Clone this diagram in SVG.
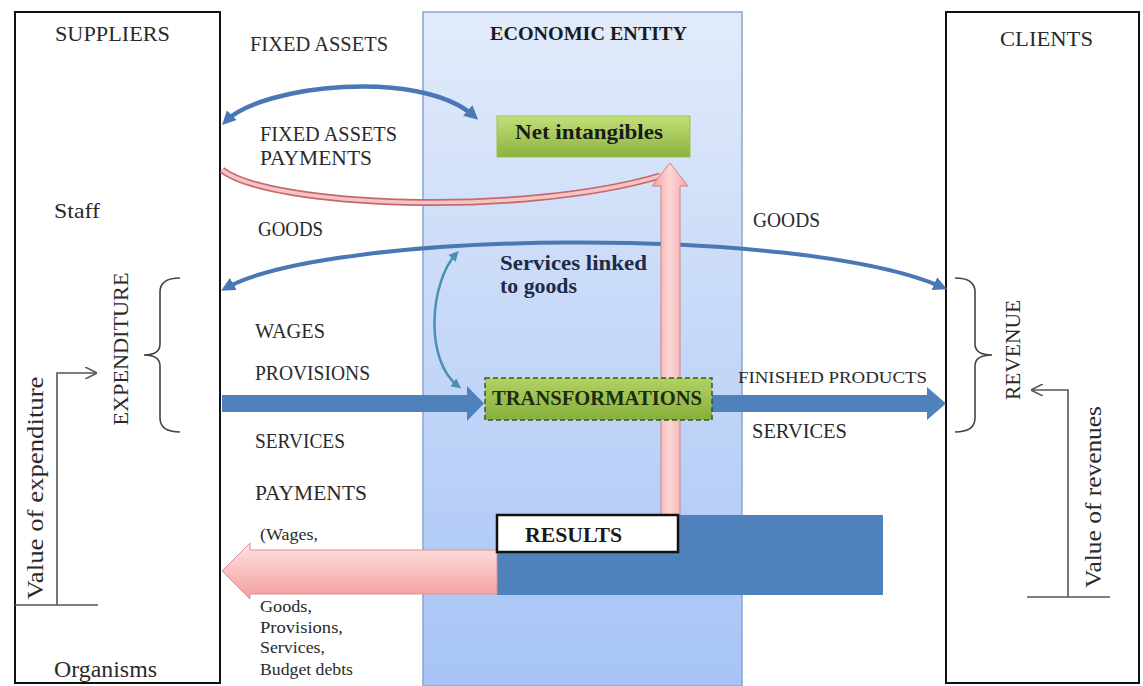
<svg xmlns="http://www.w3.org/2000/svg" width="1143" height="686" viewBox="0 0 1143 686">
<style>
text{font-family:"Liberation Serif","Times New Roman",serif;fill:#2a2a2a}
.lbl{font-size:21px}
.sm{font-size:17px}
.big{font-size:24px}
.b{font-weight:bold;fill:#1a1a1a}
.box{fill:#fff;stroke:#111;stroke-width:2}
.thin{fill:none;stroke:#555;stroke-width:1.6}
.brace{fill:none;stroke:#444;stroke-width:1.6}
.blue{fill:#4f81bd}
</style>
<defs>
<linearGradient id="gEnt" x1="0" y1="0" x2="0" y2="1"><stop offset="0" stop-color="#e2ebfa"/><stop offset="1" stop-color="#a7c4f6"/></linearGradient>
<linearGradient id="gGreen" x1="0" y1="0" x2="0" y2="1"><stop offset="0" stop-color="#c4de7a"/><stop offset="1" stop-color="#8ab43c"/></linearGradient>
<linearGradient id="gTr" x1="0" y1="0" x2="0" y2="1"><stop offset="0" stop-color="#b2d264"/><stop offset="1" stop-color="#86ae3a"/></linearGradient>
<linearGradient id="gPinkV" x1="0" y1="0" x2="1" y2="0"><stop offset="0" stop-color="#f2a3a3"/><stop offset="0.5" stop-color="#fcd6d6"/><stop offset="1" stop-color="#f2a3a3"/></linearGradient>
<linearGradient id="gPinkH" x1="0" y1="0" x2="0" y2="1"><stop offset="0" stop-color="#fde4e4"/><stop offset="1" stop-color="#f39c9c"/></linearGradient>
<marker id="mBlue" viewBox="0 0 10 10" refX="6" refY="5" markerWidth="14" markerHeight="14" markerUnits="userSpaceOnUse" orient="auto-start-reverse"><path d="M0,0 L10,5 L0,10 Z" fill="#4a78b4"/></marker>
<marker id="mTeal" viewBox="0 0 10 10" refX="6" refY="5" markerWidth="10" markerHeight="10" markerUnits="userSpaceOnUse" orient="auto-start-reverse"><path d="M0,0 L10,5 L0,10 Z" fill="#4a8fb4"/></marker>
<marker id="mOpen" viewBox="0 0 10 10" refX="9" refY="5" markerWidth="12" markerHeight="12" markerUnits="userSpaceOnUse" orient="auto"><path d="M0,0 L10,5 L0,10" fill="none" stroke="#555" stroke-width="1.3"/></marker>
</defs>

<g id="entity">
<rect x="423" y="12" width="319" height="674" fill="url(#gEnt)" stroke="#8aa4cc" stroke-width="1.5"/>
<text class="b" x="490" y="40" font-size="19" textLength="197" lengthAdjust="spacingAndGlyphs">ECONOMIC ENTITY</text>
</g>

<g id="suppliers">
<rect class="box" x="15" y="12" width="205" height="671"/>
<text class="lbl" x="55" y="41" textLength="115" lengthAdjust="spacingAndGlyphs">SUPPLIERS</text>
<text class="lbl" x="54" y="218" font-size="22" textLength="46" lengthAdjust="spacingAndGlyphs">Staff</text>
<text class="big" x="54" y="677" textLength="103" lengthAdjust="spacingAndGlyphs">Organisms</text>
<path class="brace" d="M180 278 Q160 278 160 292 L160 344 Q160 355 144 355 Q160 355 160 366 L160 418 Q160 432 180 432"/>
<text class="lbl" transform="translate(128,349) rotate(-90)" text-anchor="middle" textLength="153" lengthAdjust="spacingAndGlyphs">EXPENDITURE</text>
<path class="thin" d="M57 605 L57 373 L96 373" marker-end="url(#mOpen)"/>
<path class="thin" d="M15 605 L98 605"/>
<text class="big" transform="translate(43,488) rotate(-90)" text-anchor="middle" textLength="223" lengthAdjust="spacingAndGlyphs">Value of expenditure</text>
</g>

<g id="clients">
<rect class="box" x="946" y="12" width="193" height="671"/>
<text class="lbl" x="1000" y="46" textLength="93" lengthAdjust="spacingAndGlyphs">CLIENTS</text>
<path class="brace" d="M955 278 Q975 278 975 292 L975 344 Q975 355 992 355 Q975 355 975 366 L975 418 Q975 432 955 432"/>
<text class="lbl" transform="translate(1020,350) rotate(-90)" text-anchor="middle" textLength="100" lengthAdjust="spacingAndGlyphs">REVENUE</text>
<path class="thin" d="M1068 597 L1068 390 L1032 390" marker-end="url(#mOpen)"/>
<path class="thin" d="M1027 597 L1110 597"/>
<text class="big" transform="translate(1101,497) rotate(-90)" text-anchor="middle" textLength="182" lengthAdjust="spacingAndGlyphs">Value of revenues</text>
</g>

<g id="connectors">
<path d="M226 121 C262 85 420 68 474 116" fill="none" stroke="#4a78b4" stroke-width="4.5" marker-start="url(#mBlue)" marker-end="url(#mBlue)"/>
<path d="M222 170 C270 207 520 217 660 176" fill="none" stroke="#c46a6a" stroke-width="7"/>
<path d="M222 170 C270 207 520 217 660 176" fill="none" stroke="#f6c4c4" stroke-width="3.5"/>
<path d="M226 288 C330 230 800 225 942 287" fill="none" stroke="#4a78b4" stroke-width="4" marker-start="url(#mBlue)" marker-end="url(#mBlue)"/>
<path d="M456 254 C430 282 424 360 458 386" fill="none" stroke="#4a8fb4" stroke-width="2.5" marker-start="url(#mTeal)" marker-end="url(#mTeal)"/>
<polygon class="blue" points="222,395 467,395 467,386 484,403.5 467,421 467,412 222,412"/>
<polygon class="blue" points="712,395 927,395 927,387 946,403.5 927,420 927,412 712,412"/>
<polygon points="661,515 661,186 652,186 670,163 688,186 680,186 680,515" fill="url(#gPinkV)" stroke="#d88080" stroke-width="1"/>
<rect class="blue" x="497" y="515" width="386" height="80"/>
<polygon points="497,550 250,550 250,543 222,571 250,599 250,594 497,594" fill="url(#gPinkH)" stroke="#e29090" stroke-width="1"/>
</g>

<g id="net-intangibles">
<rect x="497" y="116" width="193" height="41" fill="url(#gGreen)" stroke="#9cc050" stroke-width="1"/>
<text class="b" x="515" y="139" font-size="21" textLength="148" lengthAdjust="spacingAndGlyphs">Net intangibles</text>
</g>

<g id="transformations">
<rect x="485" y="378" width="227" height="42" fill="url(#gTr)" stroke="#3a5a20" stroke-width="1.5" stroke-dasharray="5 3"/>
<text class="b" x="492" y="405" font-size="20" textLength="210" lengthAdjust="spacingAndGlyphs" style="fill:#1f2b10">TRANSFORMATIONS</text>
</g>

<g id="results">
<rect x="497" y="515" width="181" height="37" fill="#fff" stroke="#111" stroke-width="2.5"/>
<text class="b" x="525" y="542" font-size="20" textLength="97" lengthAdjust="spacingAndGlyphs">RESULTS</text>
</g>

<g id="labels">
<text class="lbl" x="250" y="51" textLength="138" lengthAdjust="spacingAndGlyphs">FIXED ASSETS</text>
<text class="lbl" x="260" y="141" textLength="137" lengthAdjust="spacingAndGlyphs">FIXED ASSETS</text>
<text class="lbl" x="260" y="165" textLength="112" lengthAdjust="spacingAndGlyphs">PAYMENTS</text>
<text class="lbl" x="258" y="236" textLength="65" lengthAdjust="spacingAndGlyphs">GOODS</text>
<text class="lbl" x="753" y="227" textLength="67" lengthAdjust="spacingAndGlyphs">GOODS</text>
<text class="b" x="500" y="270" font-size="20" textLength="147" lengthAdjust="spacingAndGlyphs" style="fill:#1f2a44">Services linked</text>
<text class="b" x="500" y="293" font-size="20" textLength="77" lengthAdjust="spacingAndGlyphs" style="fill:#1f2a44">to goods</text>
<text class="lbl" x="255" y="338" textLength="70" lengthAdjust="spacingAndGlyphs">WAGES</text>
<text class="lbl" x="255" y="380" textLength="115" lengthAdjust="spacingAndGlyphs">PROVISIONS</text>
<text class="lbl" x="255" y="448" textLength="90" lengthAdjust="spacingAndGlyphs">SERVICES</text>
<text class="lbl" x="255" y="500" textLength="112" lengthAdjust="spacingAndGlyphs">PAYMENTS</text>
<text class="sm" x="260" y="540" textLength="58" lengthAdjust="spacingAndGlyphs">(Wages,</text>
<text class="sm" x="260" y="612" textLength="52" lengthAdjust="spacingAndGlyphs">Goods,</text>
<text class="sm" x="260" y="633" textLength="83" lengthAdjust="spacingAndGlyphs">Provisions,</text>
<text class="sm" x="260" y="653" textLength="65" lengthAdjust="spacingAndGlyphs">Services,</text>
<text class="sm" x="260" y="675" textLength="93" lengthAdjust="spacingAndGlyphs">Budget debts</text>
<text class="sm" x="738" y="383" textLength="189" lengthAdjust="spacingAndGlyphs">FINISHED PRODUCTS</text>
<text class="lbl" x="752" y="438" textLength="95" lengthAdjust="spacingAndGlyphs">SERVICES</text>
</g>
</svg>
